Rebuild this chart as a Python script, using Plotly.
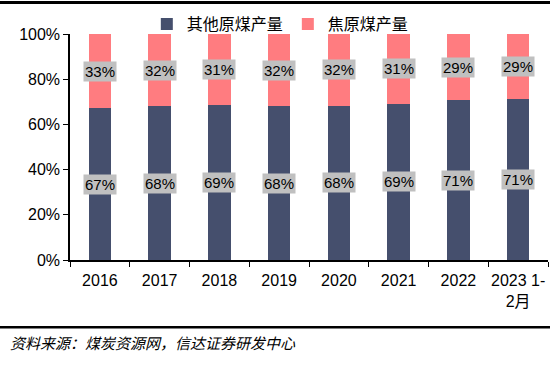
import plotly.graph_objects as go

categories = ["2016", "2017", "2018", "2019", "2020", "2021", "2022", "2023 1-<br>2月"]
other_coal = [67.2, 68.0, 68.6, 68.0, 68.2, 69.2, 70.8, 71.3]
coking_coal = [32.8, 32.0, 31.4, 32.0, 31.8, 30.8, 29.2, 28.7]
other_labels = ["67%", "68%", "69%", "68%", "68%", "69%", "71%", "71%"]
coking_labels = ["33%", "32%", "31%", "32%", "32%", "31%", "29%", "29%"]
y_ticks = [0, 20, 40, 60, 80, 100]
y_tick_text = ["0%", "20%", "40%", "60%", "80%", "100%"]

DARK = "#454f6d"
PINK = "#ff7c80"
FONT = "Liberation Sans, Arial, Noto Sans CJK SC, sans-serif"

fig = go.Figure()
fig.add_trace(go.Bar(x=categories, y=other_coal, name="其他原煤产量",
                     marker=dict(color=DARK, line=dict(width=0))))
fig.add_trace(go.Bar(x=categories, y=coking_coal, name="焦原煤产量",
                     marker=dict(color=PINK, line=dict(width=0))))

annotations = []
for i, (o, k, ol, kl) in enumerate(zip(other_coal, coking_coal, other_labels, coking_labels)):
    annotations.append(dict(x=i, y=o / 2, text=ol, showarrow=False, xref="x", yref="y",
                            bgcolor="#c0c0c0", borderpad=1,
                            font=dict(size=15, color="black", family=FONT)))
    annotations.append(dict(x=i, y=o + k / 2, text=kl, showarrow=False, xref="x", yref="y",
                            bgcolor="#c0c0c0", borderpad=1,
                            font=dict(size=15, color="black", family=FONT)))

annotations.append(dict(x=-62/478, y=-82/226, xref="paper", yref="paper",
                        text="<i>资料来源：煤炭资源网，信达证券研发中心</i>",
                        showarrow=False, xanchor="left", yanchor="middle",
                        font=dict(size=15, color="black", family="Noto Sans CJK SC")))

fig.update_layout(
    width=550, height=381,
    margin=dict(l=70, r=2, t=34, b=121, autoexpand=False),
    paper_bgcolor="white", plot_bgcolor="white",
    barmode="stack", bargap=0.62,
    font=dict(family=FONT, size=16, color="black"),
    showlegend=True,
    legend=dict(orientation="h", x=0.44, xanchor="center", y=1 + 27/226, yanchor="top",
                traceorder="normal",
                font=dict(size=16, family="Noto Sans CJK SC, sans-serif"),
                bgcolor="rgba(255,255,255,0)"),
    xaxis=dict(type="category", range=[-0.5, len(categories) - 0.5], showline=True,
               linecolor="black", linewidth=1.5, ticks="outside",
               tickson="boundaries", ticklen=5, tickcolor="black", showgrid=False,
               tickangle=0, ticklabelstandoff=5, tickfont=dict(size=16, family=FONT)),
    yaxis=dict(range=[0, 100], tickvals=y_ticks, ticktext=y_tick_text, showline=True,
               linecolor="black", linewidth=1.5, ticks="outside", ticklen=5,
               tickcolor="black", showgrid=False, zeroline=False,
               tickfont=dict(size=16, family=FONT)),
    shapes=[
        dict(type="rect", xref="paper", yref="paper", x0=-70/478, x1=1 + 2/478,
             y0=1 + 30/226, y1=1 + 33/226, fillcolor="black", line=dict(width=0),
             layer="above"),
        dict(type="rect", xref="paper", yref="paper", x0=-70/478, x1=1 + 2/478,
             y0=-68.5/226, y1=-66/226, fillcolor="black", line=dict(width=0),
             layer="above"),
    ],
    annotations=annotations,
)

fig.write_html("out.html", config={"displayModeBar": False},
               post_script="document.body.style.margin='0px';")
